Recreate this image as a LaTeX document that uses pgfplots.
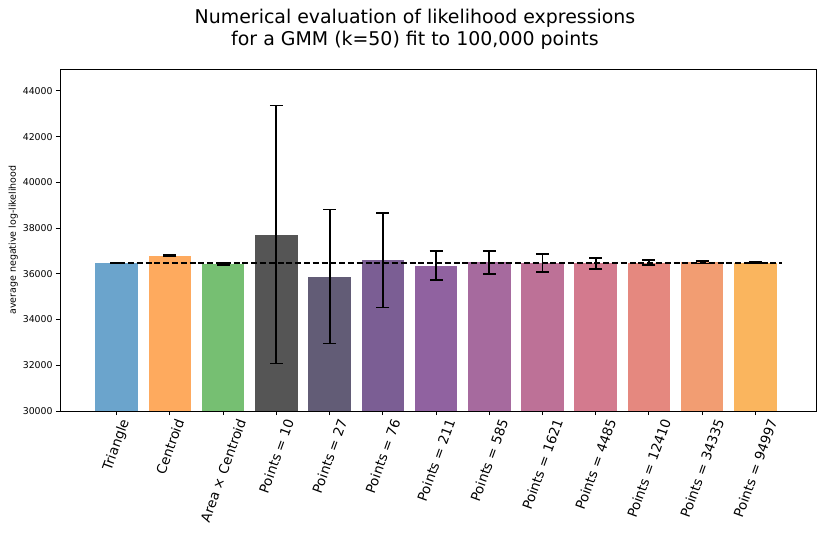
\documentclass[border=0pt]{standalone}
\usepackage{fontspec}
\setmainfont{DejaVu Sans}
\usepackage{graphicx}
\usepackage{pgfplots}
\pgfplotsset{compat=1.18}
\definecolor{c0}{RGB}{107,164,204}
\definecolor{c1}{RGB}{254,170,94}
\definecolor{c2}{RGB}{118,191,114}
\definecolor{c3}{RGB}{85,85,85}
\definecolor{c4}{RGB}{98,92,118}
\definecolor{c5}{RGB}{123,94,148}
\definecolor{c6}{RGB}{144,98,160}
\definecolor{c7}{RGB}{166,106,158}
\definecolor{c8}{RGB}{189,113,151}
\definecolor{c9}{RGB}{211,122,142}
\definecolor{c10}{RGB}{229,136,127}
\definecolor{c11}{RGB}{242,157,114}
\definecolor{c12}{RGB}{250,181,94}
\newcommand\rl[1]{\rotatebox{70}{#1}}
\pgfplotsset{
  mybar/.style={ybar, bar width=0.8, bar shift=0pt, fill=#1, draw=none,
    error bars/.cd, y dir=both, y explicit,
    error bar style={black, line width=1.8bp},
    error mark options={rotate=90, black, line width=1.8bp, mark size=6.5bp}}
}
\begin{document}
\begin{tikzpicture}
\useasboundingbox (-60bp,-143bp) rectangle (770bp,411bp);
\begin{axis}[
  name=ax, at={(0,0)}, anchor=south west,
  scale only axis, width=756bp, height=342bp,
  xmin=-1.066, xmax=13.14, ymin=30000, ymax=44960,
  ytick={30000,32000,34000,36000,38000,40000,42000,44000},
  xtick={0,1,2,3,4,5,6,7,8,9,10,11,12},
  xticklabels={\rl{Triangle},\rl{Centroid},\rl{Area × Centroid},\rl{Points = 10},\rl{Points = 27},\rl{Points = 76},\rl{Points = 211},\rl{Points = 585},\rl{Points = 1621},\rl{Points = 4485},\rl{Points = 12410},\rl{Points = 34335},\rl{Points = 94997}},
  tick align=outside, tick pos=left,
  major tick length=4bp,
  tick style={black, line width=0.9bp},
  axis line style={black, line width=0.9bp},
  /pgf/number format/assume math mode=true,
  /pgf/number format/1000 sep={},
  scaled y ticks=false,
  yticklabel style={font=\fontsize{9.4}{11}\selectfont, anchor=east, inner sep=0pt, xshift=-3.2bp},
  xticklabel style={font=\fontsize{13.5}{16}\selectfont, anchor=north, inner sep=0pt, yshift=-3bp},
  ylabel={average negative log-likelihood},
  ylabel style={font=\fontsize{9.5}{11}\selectfont, at={(axis description cs:-0.0556,0.5)}, anchor=south, inner sep=0pt},
]
\addplot[mybar=c0] coordinates {(0,36470) +- (0,8)};
\addplot[mybar=c1] coordinates {(1,36800) +- (0,10)};
\addplot[mybar=c2] coordinates {(2,36430) +- (0,30)};
\addplot[mybar=c3] coordinates {(3,37720) +- (0,5640)};
\addplot[mybar=c4] coordinates {(4,35880) +- (0,2930)};
\addplot[mybar=c5] coordinates {(5,36590) +- (0,2060)};
\addplot[mybar=c6] coordinates {(6,36350) +- (0,635)};
\addplot[mybar=c7] coordinates {(7,36500) +- (0,513)};
\addplot[mybar=c8] coordinates {(8,36475) +- (0,394)};
\addplot[mybar=c9] coordinates {(9,36465) +- (0,240)};
\addplot[mybar=c10] coordinates {(10,36490) +- (0,116)};
\addplot[mybar=c11] coordinates {(11,36505) +- (0,50)};
\addplot[mybar=c12] coordinates {(12,36490) +- (0,15)};
\addplot[black, line width=1.6bp, dash pattern=on 6bp off 2.8bp, forget plot] coordinates {(-0.12,36480) (12.5,36480)};
\end{axis}
\node[font=\fontsize{19}{22}\selectfont, align=center, anchor=south, inner sep=0pt] at (355bp,361bp) {Numerical evaluation of likelihood expressions\\for a GMM (k=50) fit to 100,000 points};
\end{tikzpicture}
\end{document}
